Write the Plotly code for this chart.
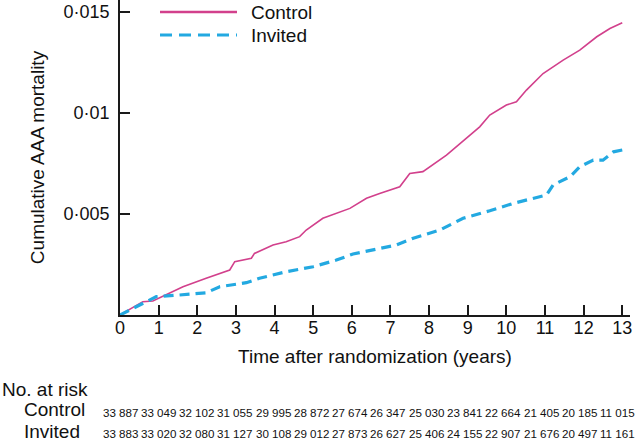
import plotly.graph_objects as go

# ---- data ----
t_control = [0, 0.59, 0.85, 1.11, 1.63, 2.23, 2.84, 2.97, 3.4, 3.48, 3.96, 4.3, 4.65, 4.82,
             5.25, 5.95, 6.38, 6.72, 7.24, 7.5, 7.84, 8.45, 8.8, 9.31, 9.57, 10.0, 10.26,
             10.52, 10.95, 11.47, 11.9, 12.34, 12.68, 13.0]
y_control = [0, 0.00066, 0.00069, 0.00094, 0.0014, 0.00182, 0.00223, 0.00264, 0.00281,
             0.00305, 0.00347, 0.00363, 0.00388, 0.00421, 0.00479, 0.00528, 0.00578, 0.00602,
             0.00635, 0.00701, 0.0071, 0.00792, 0.0085, 0.00932, 0.0099, 0.0104, 0.01056,
             0.01114, 0.01196, 0.01262, 0.01312, 0.01378, 0.01419, 0.01447]

t_invited = [0, 0.59, 0.94, 1.54, 2.23, 2.58, 3.27, 3.61, 4.3, 5.0, 5.6, 6.03, 6.64, 7.16,
             7.59, 8.28, 8.88, 9.57, 10.18, 10.52, 11.04, 11.21, 11.65, 11.9, 12.25, 12.5,
             12.77, 13.0]
y_invited = [0, 0.00058, 0.00091, 0.00099, 0.0011, 0.0014, 0.0016, 0.00182, 0.00214,
             0.00239, 0.00272, 0.00302, 0.00327, 0.00347, 0.0038, 0.00421, 0.00479, 0.00516,
             0.00553, 0.00569, 0.00594, 0.00644, 0.00685, 0.00734, 0.00767, 0.00767, 0.00808,
             0.00817]

years = list(range(14))
ytick_vals = [0.005, 0.01, 0.015]
ytick_text = ["0·005", "0·01", "0·015"]

risk_control = ["33 887", "33 049", "32 102", "31 055", "29 995", "28 872", "27 674",
                "26 347", "25 030", "23 841", "22 664", "21 405", "20 185", "11 015"]
risk_invited = ["33 883", "33 020", "32 080", "31 127", "30 108", "29 012", "27 873",
                "26 627", "25 406", "24 155", "22 907", "21 676", "20 497", "11 161"]

C_CONTROL = "#d2408c"
C_INVITED = "#23a9e1"
FONT = "Liberation Sans, Arial, sans-serif"

fig = go.Figure()
fig.add_trace(go.Scatter(x=t_control, y=y_control, mode="lines", name="Control",
                         line=dict(color=C_CONTROL, width=1.6)))
fig.add_trace(go.Scatter(x=t_invited, y=y_invited, mode="lines", name="Invited",
                         line=dict(color=C_INVITED, width=3.2, dash="10px,6px")))

W, H = 639, 443
ML, MR, MT, MB = 120, 9, 0, 128
PW, PH = W - ML - MR, H - MT - MB


def px2paper_x(px):
    return (px - ML) / PW


def py2paper_y(py):
    return (MT + PH - py) / PH


annotations = []
# legend (manual)
shapes = [
    dict(type="line", xref="paper", yref="paper", x0=px2paper_x(160), x1=px2paper_x(237),
         y0=py2paper_y(12), y1=py2paper_y(12), line=dict(color=C_CONTROL, width=2.5)),
    dict(type="line", xref="paper", yref="paper", x0=px2paper_x(160), x1=px2paper_x(237),
         y0=py2paper_y(35), y1=py2paper_y(35), line=dict(color=C_INVITED, width=3, dash="12px,7px")),
]
for label, py in (("Control", 13), ("Invited", 35)):
    annotations.append(dict(text=label, xref="paper", yref="paper", x=px2paper_x(249),
                            y=py2paper_y(py), xanchor="left", yanchor="middle", showarrow=False,
                            font=dict(size=19, color="#111", family=FONT)))

# number at risk table
annotations.append(dict(text="No. at risk", xref="paper", yref="paper", x=px2paper_x(0),
                        y=py2paper_y(389), xanchor="left", yanchor="middle", showarrow=False,
                        font=dict(size=19, color="#111", family=FONT)))
for label, py in (("Control", 409), ("Invited", 431)):
    annotations.append(dict(text=label, xref="paper", yref="paper", x=px2paper_x(22),
                            y=py2paper_y(py), xanchor="left", yanchor="middle", showarrow=False,
                            font=dict(size=19, color="#111", family=FONT)))
for row, py in ((risk_control, 412), (risk_invited, 433)):
    for yr, val in zip(years, row):
        annotations.append(dict(text=val, xref="x", yref="paper", x=yr, xshift=-0.36 * yr,
                                y=py2paper_y(py), xanchor="center", yanchor="middle",
                                showarrow=False, font=dict(size=11.6, color="#111", family=FONT)))

axis_common = dict(showgrid=False, zeroline=False, showline=True, linecolor="#1a1a1a",
                   linewidth=1.6, ticks="inside", ticklen=10, tickwidth=1.5, tickcolor="#1a1a1a",
                   tickfont=dict(size=18, color="#111", family=FONT))

fig.update_layout(
    width=W, height=H,
    margin=dict(l=ML, r=MR, t=MT, b=MB),
    paper_bgcolor="white", plot_bgcolor="white",
    showlegend=False,
    font=dict(family=FONT, color="#111"),
    xaxis=dict(range=[0, 13.2], tickvals=years, ticklabelstandoff=-4,
               title=dict(text="Time after randomization (years)", font=dict(size=19),
                          standoff=12),
               **axis_common),
    yaxis=dict(range=[0, 0.0156], tickvals=ytick_vals, ticktext=ytick_text,
               ticklabelstandoff=5,
               title=dict(text="Cumulative AAA mortality", font=dict(size=19), standoff=14),
               **axis_common),
    shapes=shapes,
    annotations=annotations,
)

fig.write_html("out.html", config={"displayModeBar": False},
               post_script="document.body.style.margin='0';document.body.style.padding='0';")
